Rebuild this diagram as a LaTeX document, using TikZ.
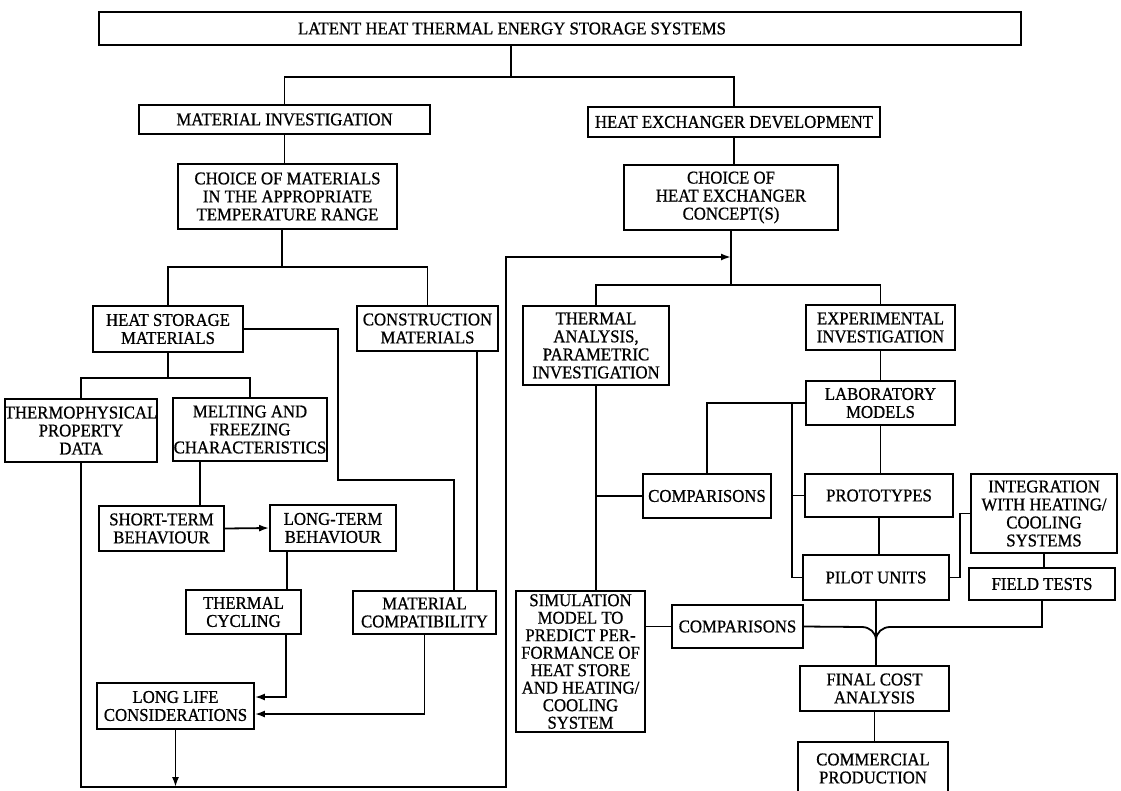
\documentclass[tikz,border=0pt]{standalone}
\usepackage{fontspec}
\setmainfont{Liberation Serif}[FakeStretch=0.93,FakeBold=0.8]
\usetikzlibrary{arrows.meta}

\tikzset{
  blk/.style={draw,line width=1.8pt,align=center,inner sep=0pt,
    font=\fontsize{18}{18}\selectfont},
  lnk/.style={line width=1.8pt},
  arr/.style={lnk,-{Latex[length=10pt,width=7pt]}},
}

\begin{document}
\begin{tikzpicture}[x=1pt,y=-1pt]
  \useasboundingbox (0,0) rectangle (1121,790);

  \node[blk,minimum width=922pt,minimum height=33pt,
    label={[xshift=-48pt,font=\fontsize{18}{18}\selectfont]center:LATENT HEAT THERMAL ENERGY STORAGE SYSTEMS}]
    (lhtes) at (560,28.5) {};

  % material side
  \node[blk,minimum width=291pt,minimum height=29pt] (matinv) at (284.5,119.5) {MATERIAL INVESTIGATION};
  \node[blk,minimum width=219pt,minimum height=65pt] (choicemat) at (287.5,196.5)
    {CHOICE OF MATERIALS\\IN THE APPROPRIATE\\TEMPERATURE RANGE};
  \node[blk,minimum width=150pt,minimum height=46pt] (hsm) at (168,329) {HEAT STORAGE\\MATERIALS};
  \node[blk,minimum width=141pt,minimum height=45pt] (constr) at (427.5,328.5) {CONSTRUCTION\\MATERIALS};
  \node[blk,minimum width=152pt,minimum height=63pt] (thermo) at (81,430.5) {THERMOPHYSICAL\\PROPERTY\\DATA};
  \node[blk,minimum width=154pt,minimum height=63pt] (melt) at (250,429.5) {MELTING AND\\FREEZING\\CHARACTERISTICS};
  \node[blk,minimum width=125pt,minimum height=45pt] (short) at (161.5,528.5) {SHORT-TERM\\BEHAVIOUR};
  \node[blk,minimum width=126pt,minimum height=46pt] (long) at (333,528) {LONG-TERM\\BEHAVIOUR};
  \node[blk,minimum width=115pt,minimum height=44pt] (tcyc) at (243.5,612) {THERMAL\\CYCLING};
  \node[blk,minimum width=143pt,minimum height=43pt] (matcomp) at (424.5,612.5) {MATERIAL\\COMPATIBILITY};
  \node[blk,minimum width=157pt,minimum height=46pt] (longlife) at (175.5,706) {LONG LIFE\\CONSIDERATIONS};

  % heat exchanger side
  \node[blk,minimum width=292pt,minimum height=30pt] (hed) at (734,122) {HEAT EXCHANGER DEVELOPMENT};
  \node[blk,minimum width=214pt,minimum height=65pt] (choicehx) at (731,197.5)
    {CHOICE OF\\HEAT EXCHANGER\\CONCEPT(S)};
  \node[blk,minimum width=146pt,minimum height=79pt] (thana) at (596,345.5)
    {THERMAL\\ANALYSIS,\\PARAMETRIC\\INVESTIGATION};
  \node[blk,minimum width=149pt,minimum height=45pt] (expinv) at (880.5,327.5) {EXPERIMENTAL\\INVESTIGATION};
  \node[blk,minimum width=149pt,minimum height=44pt] (labmod) at (880.5,403) {LABORATORY\\MODELS};
  \node[blk,minimum width=128pt,minimum height=44pt] (compA) at (707,496) {COMPARISONS};
  \node[blk,minimum width=148pt,minimum height=43pt] (proto) at (879,495.5) {PROTOTYPES};
  \node[blk,minimum width=146pt,minimum height=79pt] (integ) at (1044,513.5)
    {INTEGRATION\\WITH HEATING/\\COOLING\\SYSTEMS};
  \node[blk,minimum width=146pt,minimum height=45pt] (pilot) at (876,577.5) {PILOT UNITS};
  \node[blk,minimum width=146pt,minimum height=32pt] (field) at (1042,584) {FIELD TESTS};
  \node[blk,minimum width=129pt,minimum height=141pt,font=\fontsize{18}{17.5}\selectfont] (sim) at (580.5,661.5)
    {SIMULATION\\MODEL TO\\PREDICT PER-\\FORMANCE OF\\HEAT STORE\\AND HEATING/\\COOLING\\SYSTEM};
  \node[blk,minimum width=131pt,minimum height=43pt] (compB) at (737.5,626.5) {COMPARISONS};
  \node[blk,minimum width=149pt,minimum height=45pt] (fincost) at (874.5,688.5) {FINAL COST\\ANALYSIS};
  \node[blk,minimum width=150pt,minimum height=53pt] (comm) at (873,768.5) {COMMERCIAL\\PRODUCTION};

  \coordinate (tj) at (511,77);
  \coordinate (mj) at (282,267);
  \coordinate (hj) at (731,285);
  \coordinate (sj) at (168,378);
  \coordinate (lbot) at (506,787);
  \coordinate (ltop) at (506,257);
  \coordinate (lv) at (792,403);
  \coordinate (mrg) at (876,640);

  \draw[lnk] (tj |- lhtes.south) -- (tj);
  \draw[lnk] (matinv.north) |- (tj) -| (hed.north);
  \draw[lnk] (matinv.south) -- (matinv.south |- choicemat.north);
  \draw[lnk] (choicemat.south -| mj) -- (mj);
  \draw[lnk] (hsm.north) |- (mj) -| (constr.north);
  \draw[lnk] (hsm.south) -- (sj);
  \draw[lnk] (thermo.north) |- (sj) -| (melt.north);
  \draw[lnk] (hsm.east) -| (338,480) -| ([xshift=29.5pt]matcomp.north);
  \draw[lnk] ([xshift=49.5pt]constr.south) -- ([xshift=49.5pt]constr.south |- matcomp.north);
  \draw[lnk] ([xshift=-50pt]melt.south) -- ([xshift=-50pt]melt.south |- short.north);
  \draw[arr] (short.east) -- (long.west);
  \draw[lnk] ([xshift=-46pt]long.south) -- ([xshift=-46pt]long.south |- tcyc.north);
  \draw[arr] ([xshift=42.5pt]tcyc.south) |- ([yshift=9pt]longlife.east);
  \draw[arr] (matcomp.south) |- ([yshift=-8pt]longlife.east);
  \draw[arr] (longlife.south) -- (longlife.south |- lbot);
  \draw[arr] (thermo.south) |- (lbot) -- (ltop) -- (ltop -| choicehx.south);

  \draw[lnk] (hed.south) -- (hed.south |- choicehx.north);
  \draw[lnk] (choicehx.south) -- (hj);
  \draw[lnk] (thana.north) |- (hj) -| (expinv.north);
  \draw[lnk] (thana.south) -- (thana.south |- sim.north);
  \draw[lnk] (thana.south |- compA.west) -- (compA.west);
  \draw[lnk] (expinv.south) -- (labmod.north);
  \draw[lnk] (labmod.south) -- (labmod.south |- proto.north);
  \draw[lnk] (proto.south) -- (proto.south |- pilot.north);
  \draw[lnk] (labmod.west) -| (compA.north);
  \draw[lnk] (lv) |- (pilot.west);
  \draw[lnk] (lv |- proto.west) -- (proto.west);
  \draw[lnk] (pilot.east) -| ([xshift=-10pt]integ.west) -- (integ.west);
  \draw[lnk] (integ.south) -- (integ.south |- field.north);
  \draw[lnk] (compB.west) -- (compB.west -| sim.east);
  \draw[lnk] (pilot.south) -- (pilot.south |- fincost.north);
  \draw[lnk] (compB.east) -- (862,627) to[out=0,in=90] (mrg);
  \draw[lnk] (field.south) |- (890,627) to[out=180,in=90] (mrg);
  \draw[lnk] (fincost.south) -- (fincost.south |- comm.north);
\end{tikzpicture}
\end{document}
